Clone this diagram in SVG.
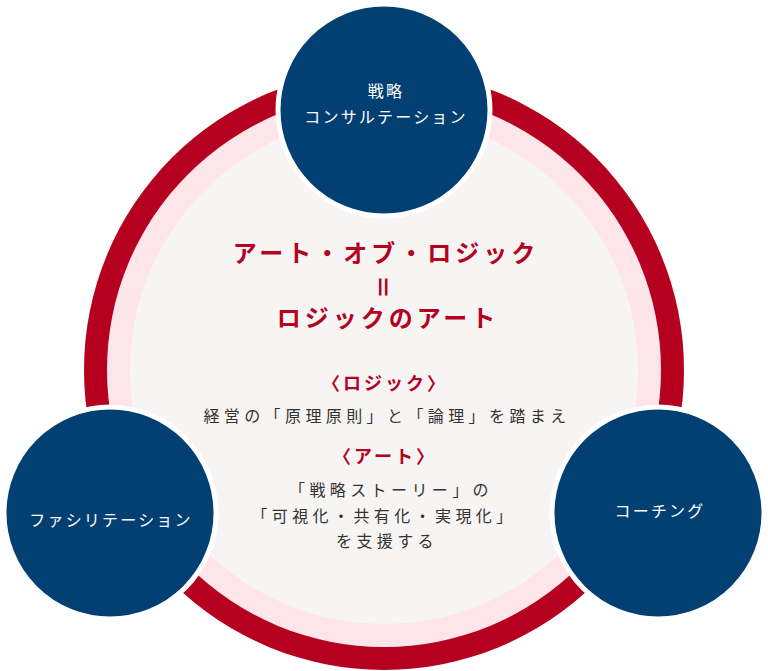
<svg xmlns="http://www.w3.org/2000/svg" width="768" height="671" viewBox="0 0 768 671">
<style>
text{font-family:"Noto Sans CJK JP","Noto Sans",sans-serif;text-anchor:middle}
.title{font-size:24px;font-weight:700;fill:#b5001f;letter-spacing:4px}
.eq{font-size:24px;font-weight:700;fill:#b5001f}
.sub{font-size:18px;font-weight:700;fill:#b5001f;letter-spacing:3px}
.body{font-size:16px;fill:#333333;letter-spacing:4.4px}
.node{fill:#024073;stroke:#ffffff;stroke-width:5}
.lbl{font-size:16px;fill:#ffffff;letter-spacing:2.2px}
</style>
<rect width="768" height="671" fill="#ffffff"/>
<g id="main">
<circle cx="384" cy="370" r="300" fill="#b5001f"/>
<circle cx="384" cy="370" r="277" fill="#fde5ea"/>
<circle cx="384" cy="370" r="254" fill="#f6f5f4"/>
<text class="title" x="386" y="262">アート・オブ・ロジック</text>
<text class="eq" x="0" y="0" dominant-baseline="central" transform="translate(384 287) rotate(90)">＝</text>
<text class="title" x="388" y="327">ロジックのアート</text>
<text class="sub" x="385" y="390">〈ロジック〉</text>
<text class="body" x="387" y="422">経営の「原理原則」と「論理」を踏まえ</text>
<text class="sub" x="385" y="463">〈アート〉</text>
<text class="body" x="391" y="496">「戦略ストーリー」の</text>
<text class="body" x="384" y="522">「可視化・共有化・実現化」</text>
<text class="body" x="387" y="547">を支援する</text>
</g>
<g id="connectors"></g>
<g id="node-top">
<circle class="node" cx="384" cy="110" r="106"/>
<text class="lbl" x="386" y="97">戦略</text>
<text class="lbl" x="386" y="123">コンサルテーション</text>
</g>
<g id="node-left">
<circle class="node" cx="110" cy="513" r="106"/>
<text class="lbl" x="111" y="526">ファシリテーション</text>
</g>
<g id="node-right">
<circle class="node" cx="658" cy="513" r="106"/>
<text class="lbl" x="660" y="517">コーチング</text>
</g>
</svg>
